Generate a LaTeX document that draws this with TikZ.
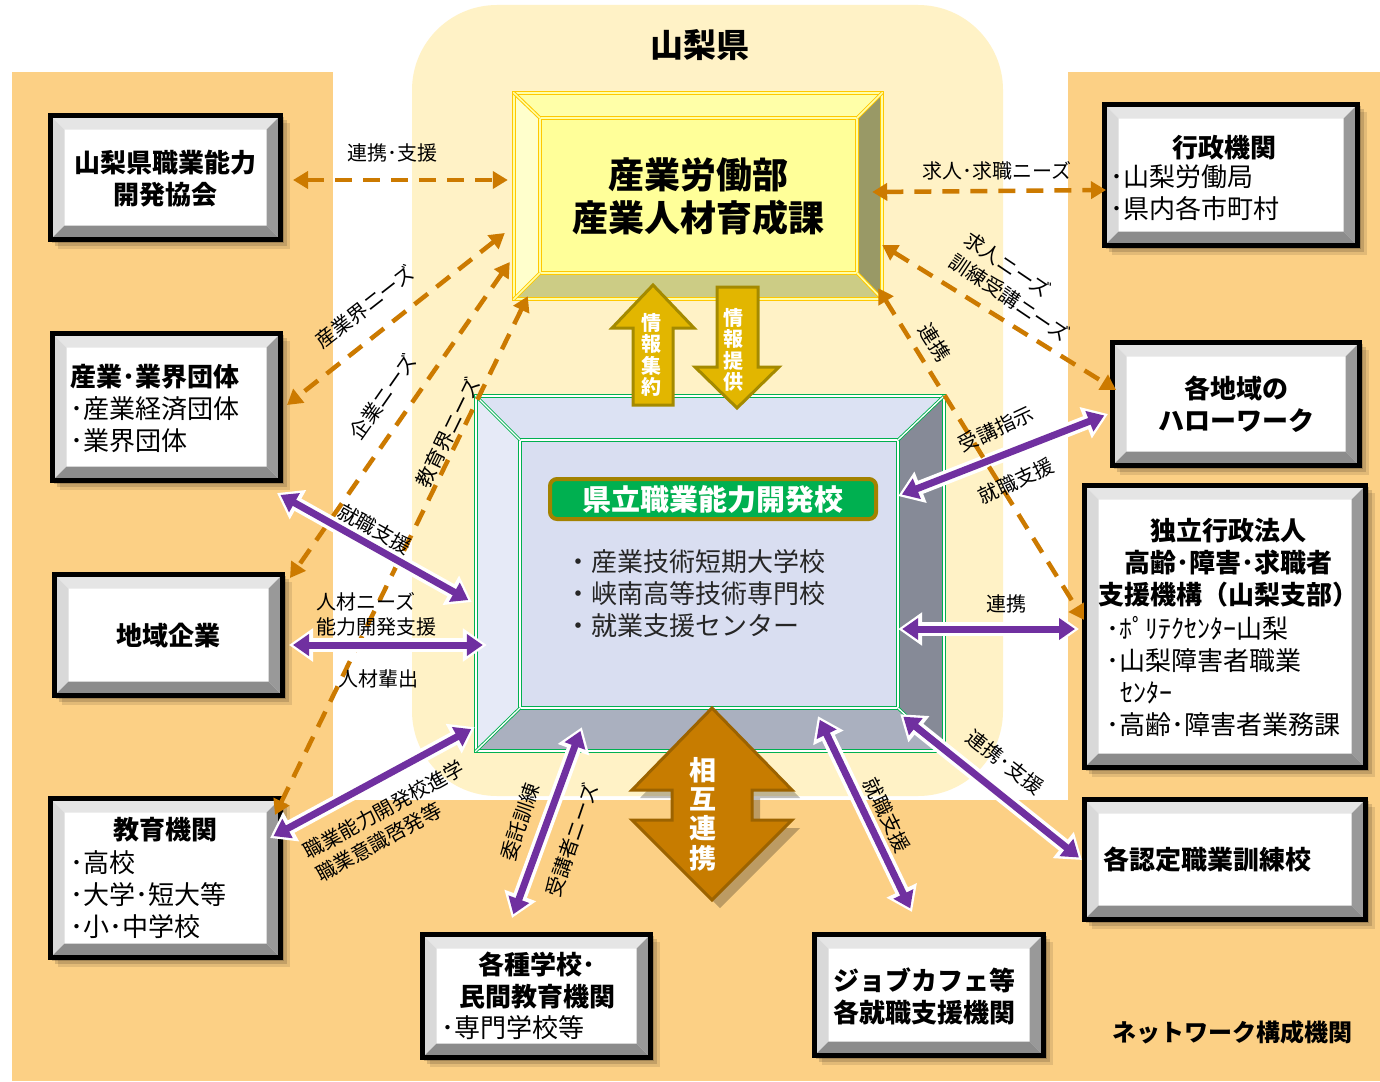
\documentclass[tikz,border=0pt]{standalone}
\usepackage{fontspec}
\setmainfont{Noto Sans CJK JP}
\usetikzlibrary{arrows.meta}
\definecolor{orng}{HTML}{FCD085}
\definecolor{cream}{HTML}{FFF2C6}
\definecolor{dorg}{HTML}{CC7A00}
\definecolor{purp}{HTML}{7030A0}
\definecolor{gold}{HTML}{E2B600}
\definecolor{goldd}{HTML}{A48A00}
\definecolor{brwn}{HTML}{C77C00}
\definecolor{brwnd}{HTML}{9C6300}
\definecolor{grn}{HTML}{00B050}
\definecolor{lblbrd}{HTML}{A38200}
\definecolor{ygold}{HTML}{FFC800}
\definecolor{yface}{HTML}{FFFF99}
\definecolor{ytop}{HTML}{FFFFA8}
\definecolor{yleft}{HTML}{FFFFCC}
\definecolor{yright}{HTML}{999966}
\definecolor{ybot}{HTML}{CCCC85}
\definecolor{bface}{HTML}{D9DEF1}
\definecolor{btop}{HTML}{DCE2F3}
\definecolor{bleft}{HTML}{E6EAF7}
\definecolor{bright}{HTML}{868A97}
\definecolor{bbot}{HTML}{AAB0BF}
\tikzset{
  bevelbox/.style={rectangle, draw=black, line width=5pt, fill=white, inner sep=0pt,
    path picture={
      \fill[black!10] (path picture bounding box.north west) -- (path picture bounding box.north east)
        -- ([shift={(-14pt,-14pt)}]path picture bounding box.north east)
        -- ([shift={(14pt,-14pt)}]path picture bounding box.north west) -- cycle;
      \fill[black!15] (path picture bounding box.north west) -- (path picture bounding box.south west)
        -- ([shift={(14pt,14pt)}]path picture bounding box.south west)
        -- ([shift={(14pt,-14pt)}]path picture bounding box.north west) -- cycle;
      \fill[black!40] (path picture bounding box.north east) -- (path picture bounding box.south east)
        -- ([shift={(-14pt,14pt)}]path picture bounding box.south east)
        -- ([shift={(-14pt,-14pt)}]path picture bounding box.north east) -- cycle;
      \fill[black!45] (path picture bounding box.south west) -- (path picture bounding box.south east)
        -- ([shift={(-14pt,14pt)}]path picture bounding box.south east)
        -- ([shift={(14pt,14pt)}]path picture bounding box.south west) -- cycle;
    }},
  btitle/.style={font=\bfseries\fontsize{26}{32}\selectfont, inner sep=0pt, align=center},
  bbody/.style={font=\fontsize{26}{32}\selectfont, inner sep=0pt, align=left, anchor=west},
  lab/.style={font=\fontsize{20}{26}\selectfont, inner sep=1pt},
  dsh/.style={draw=dorg, line width=4.5pt, dash pattern=on 17pt off 11pt,
    {Triangle[length=15pt,width=17pt]}-{Triangle[length=15pt,width=17pt]}},
  gline/.style={draw=grn, line width=0.9pt, double=white, double distance=1.3pt},
  yline/.style={draw=ygold, line width=1pt, double=ytop, double distance=1.5pt},
  blockarrow/.style={line width=3pt, line join=miter},
  arrtext/.style={text=white, font=\bfseries\fontsize{20}{21.3}\selectfont, align=center, inner sep=0pt},
}
\newcommand\bbox[5]{%
  \foreach \o/\a in {9/0.10,6/0.14,3/0.18}{
    \fill[black,opacity=\a] (#2-#4/2+\o-2, #3-#5/2+\o-2) rectangle (#2+#4/2+\o, #3+#5/2+\o);}
  \node[bevelbox, minimum width=#4pt, minimum height=#5pt] (#1) at (#2,#3) {};
}
\newcommand\parr[2]{%
  \draw[white, line width=14pt, {Triangle[length=24pt,width=32pt]}-{Triangle[length=24pt,width=32pt]}] (#1) -- (#2);
  \draw[purp, line width=7pt, shorten <=4pt, shorten >=4pt, {Triangle[length=16pt,width=21pt]}-{Triangle[length=16pt,width=21pt]}] (#1) -- (#2);
}
\begin{document}
\begin{tikzpicture}[x=1pt,y=-1pt]
\useasboundingbox (0,0) rectangle (1380,1081);
\fill[white] (0,0) rectangle (1380,1081);
% background panels
\fill[orng] (12,72) rectangle (333,1081);
\fill[orng] (1068,72) rectangle (1380,1081);
\fill[orng] (12,800) rectangle (1380,1081);
\fill[cream, rounded corners=85pt] (412,5) rectangle (1003,796);
\node[font=\bfseries\fontsize{33}{36}\selectfont, inner sep=0pt] (ken) at (700,45) {山梨県};

% network boxes
\bbox{kyokai}{165.5}{177.5}{230}{124}
\bbox{dantai}{166.5}{407}{228}{147}
\bbox{kigyo}{168.5}{635}{228}{121}
\bbox{kyoiku}{165.5}{878}{230}{159}
\bbox{kakushu}{536.5}{996}{228}{123}
\bbox{jobcafe}{929}{995}{229}{121}
\bbox{gyosei}{1231}{175}{253}{141}
\bbox{hellow}{1236}{404}{247}{123}
\bbox{dokuritsu}{1225}{626.5}{281}{282}
\bbox{nintei}{1225}{859.5}{281}{120}

\node[btitle] (t1) at (165,179) {山梨県職業能力\\開発協会};
\node[bbody] (t2) at (70,408) {{\bfseries 産業･業界団体}\\･産業経済団体\\･業界団体};
\node[btitle] (t3) at (168,636) {地域企業};
\node[btitle] (t4a) at (165,830) {教育機関};
\node[bbody] (t4b) at (70,895) {･高校\\･大学･短大等\\･小･中学校};
\node[btitle] (t5a) at (537,981) {各種学校･\\民間教育機関};
\node[bbody] (t5b) at (441,1028) {･専門学校等};
\node[btitle, anchor=west, align=left] (t6) at (833,996) {ジョブカフェ等\\各就職支援機関};
\node[btitle] (t7a) at (1224,148) {行政機関};
\node[bbody] (t7b) at (1110,193) {･山梨労働局\\･県内各市町村};
\node[btitle] (t8) at (1236,404) {各地域の\\ハローワーク};
\node[btitle] (t9a) at (1228,563) {独立行政法人\\高齢･障害･求職者\\支援機構（山梨支部）};
\node[bbody] (t9b) at (1106,676) {･ﾎﾟﾘﾃｸｾﾝﾀｰ山梨\\･山梨障害者職業\\\hspace{14pt}ｾﾝﾀｰ\\･高齢･障害者業務課};
\node[btitle, anchor=west] (t10) at (1103,860) {各認定職業訓練校};

% bureau (yellow box)
\node[rectangle, minimum width=370pt, minimum height=208pt, inner sep=0pt] (bureau) at (698,196) {};
\fill[yface] (513,92) rectangle (883,300);
\fill[ytop] (513,92) -- (883,92) -- (857,118) -- (540,118) -- cycle;
\fill[yleft] (513,92) -- (540,118) -- (540,273) -- (513,300) -- cycle;
\fill[yright] (883,92) -- (857,118) -- (857,273) -- (883,300) -- cycle;
\fill[ybot] (513,300) -- (540,273) -- (857,273) -- (883,300) -- cycle;
\fill[yface] (540,118) rectangle (857,273);
\draw[yline] (514,93) rectangle (882,299);
\draw[yline] (540,118) rectangle (857,273);
\draw[yline] (514,93) -- (540,118) (882,93) -- (857,118) (514,299) -- (540,273) (882,299) -- (857,273);
\node[font=\bfseries\fontsize{36}{43}\selectfont, align=center, inner sep=0pt] (bureautxt) at (698,197) {産業労働部\\産業人材育成課};

% school (blue box)
\node[rectangle, minimum width=470pt, minimum height=357pt, inner sep=0pt] (school) at (710,573.5) {};
\fill[bface] (475,395) rectangle (945,752);
\fill[btop] (475,395) -- (945,395) -- (898,440) -- (520,440) -- cycle;
\fill[bleft] (475,395) -- (520,440) -- (520,708) -- (475,752) -- cycle;
\fill[bright] (945,395) -- (898,440) -- (898,708) -- (945,752) -- cycle;
\fill[bbot] (475,752) -- (520,708) -- (898,708) -- (945,752) -- cycle;
\fill[bface] (520,440) rectangle (898,708);
\draw[gline] (476,396) rectangle (944,751);
\draw[gline] (520,440) rectangle (898,708);
\draw[gline] (476,396) -- (520,440) (944,396) -- (898,440) (476,751) -- (520,708) (944,751) -- (898,708);
\node[fill=grn, draw=lblbrd, line width=4pt, rounded corners=7pt, minimum width=326pt, minimum height=40pt,
  text=white, font=\bfseries\fontsize{29}{30}\selectfont, inner sep=0pt] (kenritsu) at (713,499) {県立職業能力開発校};
\node[bbody, text=black!85] (blist) at (565,594) {・産業技術短期大学校\\・峡南高等技術専門校\\・就業支援センター};

% information block arrows
\draw[blockarrow, fill=gold, draw=goldd] (653,285) -- (694,328) -- (673,328) -- (673,405) -- (633,405) -- (633,328) -- (612,328) -- cycle;
\node[arrtext] (shuyaku) at (651,355) {情\\報\\集\\約};
\draw[blockarrow, fill=gold, draw=goldd] (717,287) -- (758,287) -- (758,367) -- (779,367) -- (737,408) -- (695,367) -- (717,367) -- cycle;
\node[arrtext] (teikyo) at (733,350) {情\\報\\提\\供};

% mutual cooperation arrow
\fill[black, opacity=0.25] (720,716) -- (800,798) -- (760,798) -- (760,828) -- (800,828) -- (720,908) -- (640,828) -- (680,828) -- (680,798) -- (640,798) -- cycle;
\draw[blockarrow, fill=brwn, draw=brwnd] (712,708) -- (792,790) -- (752,790) -- (752,820) -- (792,820) -- (712,900) -- (632,820) -- (672,820) -- (672,790) -- (632,790) -- cycle;
\node[arrtext, font=\bfseries\fontsize{27}{29.3}\selectfont] (sogo) at (703,814) {相\\互\\連\\携};

% dashed connectors
\draw[dsh] ([shift={(10,2.5)}]kyokai.east) -- ([shift={(-5,-16)}]bureau.west);
\draw[dsh] ([shift={(-8,37)}]bureau.west) -- ([shift={(4,-2)}]dantai.east);
\draw[dsh] ([shift={(-3,66)}]bureau.west) -- ([shift={(5,6)}]kigyo.north east);
\draw[dsh] ([shift={(15,-4)}]bureau.south west) -- ([shift={(-8,19)}]kyoiku.north east);
\draw[dsh] ([shift={(-11,-4)}]bureau.east) -- ([shift={(4,15)}]gyosei.west);
\draw[dsh] ([shift={(-1,49)}]bureau.east) -- ([shift={(6,-14)}]hellow.west);

% purple connectors
\parr{[shift={(-6,10)}]dantai.south east}{[shift={(-3,28.5)}]school.west}
\parr{[shift={(4,10)}]kigyo.east}{[shift={(12,71.5)}]school.west}
\parr{[shift={(-13,-40)}]kyoiku.east}{[shift={(0,-25)}]school.south west}
\parr{[shift={(-24.5,-14)}]kakushu.north}{[shift={(107,-25)}]school.south west}
\parr{[shift={(108,-36)}]school.south}{[shift={(-17,-20)}]jobcafe.north}
\parr{[shift={(-45,-38)}]school.south east}{[shift={(0,0.5)}]nintei.west}
\parr{[shift={(-47,55.5)}]school.east}{[shift={(-3,2.5)}]dokuritsu.west}
\parr{[shift={(-47,-77.5)}]school.east}{[shift={(-2,10)}]hellow.west}

\draw[dsh] ([shift={(-5,-12)}]bureau.south east) -- ([shift={(2,-6.5)}]dokuritsu.west);

% labels
\node[lab] (l1) at (392,153) {連携･支援};
\node[lab, rotate=38] (l2) at (365,307) {産業界ニーズ};
\node[lab, rotate=55] (l3) at (383,397) {企業ニーズ};
\node[lab, rotate=64] (l4) at (448,433) {教育界ニーズ};
\node[lab] (l5) at (997,171) {求人･求職ニーズ};
\node[lab, rotate=-34, align=left] (l6) at (1017,287) {求人ニーズ\\訓練受講ニーズ};
\node[lab, rotate=-58] (l7) at (935,342) {連携};
\node[lab, rotate=-29] (l8) at (375,529) {就職支援};
\node[lab, anchor=west] (l9) at (315,602) {人材ニーズ};
\node[lab, anchor=west] (l10) at (315,627) {能力開発支援};
\node[lab] (l11) at (378,679) {人材輩出};
\node[lab, rotate=29, align=left] (l12) at (390,821) {職業能力開発校進学\\職業意識啓発等};
\node[lab, rotate=71] (l13) at (520,822) {委託訓練};
\node[lab, rotate=71] (l14) at (572,840) {受講者ニーズ};
\node[lab, rotate=-64] (l15) at (887,815) {就職支援};
\node[lab, rotate=-38] (l16) at (1005,762) {連携･支援};
\node[lab] (l17) at (1006,604) {連携};
\node[lab, rotate=25] (l18) at (996,429) {受講指示};
\node[lab, rotate=25] (l19) at (1016,481) {就職支援};
\node[font=\bfseries\fontsize{24}{26}\selectfont, inner sep=0pt] (net) at (1232,1032) {ネットワーク構成機関};
\end{tikzpicture}
\end{document}
